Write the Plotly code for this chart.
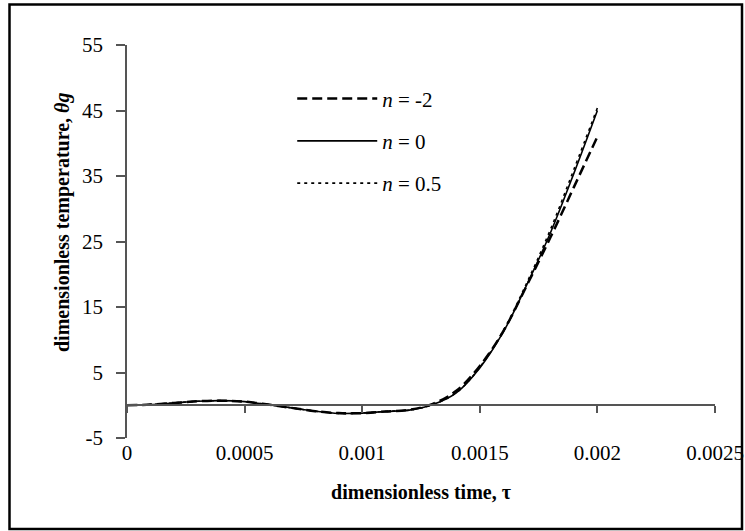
import plotly.graph_objects as go

tau = [0, 0.0001, 0.0002, 0.0003, 0.0004, 0.0005, 0.0006, 0.0007, 0.0008, 0.0009,
       0.001, 0.0011, 0.0012, 0.0013, 0.0014, 0.0015, 0.0016, 0.0017, 0.0018, 0.0019, 0.002]
theta_n_m2 = [0, 0.1, 0.35, 0.6, 0.7, 0.55, 0.1, -0.4, -0.9, -1.2,
              -1.2, -0.95, -0.7, 0.2, 2.2, 6.0, 11.3, 18.3, 25.6, 33.3, 41.0]
theta_n_0 = [0, 0.1, 0.35, 0.6, 0.7, 0.55, 0.1, -0.4, -0.9, -1.25,
             -1.2, -0.95, -0.75, 0.1, 1.9, 5.7, 11.2, 18.4, 26.3, 35.4, 45.0]
theta_n_05 = [0, 0.1, 0.35, 0.6, 0.7, 0.55, 0.1, -0.4, -0.9, -1.25,
              -1.2, -0.95, -0.75, 0.1, 1.9, 5.8, 11.4, 18.7, 26.8, 36.0, 45.4]

names = ["<i>n</i> = -2", "<i>n</i> = 0", "<i>n</i> = 0.5"]

x_ticks = [0, 0.0005, 0.001, 0.0015, 0.002, 0.0025]
x_ticktext = ["0", "0.0005", "0.001", "0.0015", "0.002", "0.0025"]
y_ticks = [-5, 5, 15, 25, 35, 45, 55]
y_ticktext = ["-5", "5", "15", "25", "35", "45", "55"]

FONT = "Liberation Serif, Times New Roman, serif"
AX = "#555555"

fig = go.Figure()
fig.add_trace(go.Scatter(x=tau, y=theta_n_m2, name=names[0], mode="lines", legendgroup="a",
                         line=dict(color="black", width=2.5, dash="10px,5px", shape="spline")))
fig.add_trace(go.Scatter(x=tau, y=theta_n_0, name=names[1], mode="lines", legendgroup="b",
                         line=dict(color="black", width=1.6, shape="spline")))
fig.add_trace(go.Scatter(x=tau, y=theta_n_05, name=names[2], mode="lines", legendgroup="c",
                         line=dict(color="black", width=1.6, dash="3px,4px", shape="spline")))
# invisible trace on xaxis2 to activate the axis drawn through y = 0
fig.add_trace(go.Scatter(x=[0], y=[0], xaxis="x2", mode="markers",
                         marker=dict(opacity=0), showlegend=False, hoverinfo="skip"))

fig.update_layout(
    width=745, height=531,
    margin=dict(l=127, r=30, t=45, b=93),
    paper_bgcolor="white", plot_bgcolor="white",
    font=dict(family=FONT, color="black", size=21),
    showlegend=True,
    legend=dict(x=0.281, y=0.915, xanchor="left", yanchor="top",
                bgcolor="rgba(0,0,0,0)", font=dict(size=21, family=FONT),
                itemwidth=80, tracegroupgap=12),
    xaxis=dict(range=[0, 0.0025], tickvals=x_ticks, ticktext=x_ticktext,
               showgrid=False, zeroline=False, showline=False, ticks="",
               tickfont=dict(size=21, family=FONT), automargin=False,
               title=dict(text="<b>dimensionless time, τ</b>", font=dict(size=20, family=FONT),
                          standoff=20)),
    xaxis2=dict(range=[0, 0.0025], overlaying="x", anchor="free", position=5/60,
                tickvals=x_ticks, showticklabels=False, showgrid=False, zeroline=False,
                showline=True, linecolor=AX, linewidth=1.5,
                ticks="outside", ticklen=7, tickcolor=AX, tickwidth=1.5),
    yaxis=dict(range=[-5, 55], tickvals=y_ticks, ticktext=y_ticktext,
               showgrid=False, zeroline=False, automargin=False,
               showline=True, linecolor=AX, linewidth=1.5,
               ticks="outside", ticklen=9, tickcolor=AX, tickwidth=1.5,
               ticklabelstandoff=9,
               tickfont=dict(size=21, family=FONT)),
    annotations=[dict(text="<b>dimensionless temperature, <i>θg</i></b>",
                      xref="paper", yref="paper", x=(62 - 127) / 588, y=(438 - 223) / 393,
                      xanchor="center", yanchor="middle", textangle=-90, showarrow=False,
                      font=dict(size=20, family=FONT, color="black"))],
    shapes=[dict(type="rect", xref="paper", yref="paper",
                 x0=(9.5 - 127) / 588, x1=(742 - 127) / 588,
                 y0=(438 - 529) / 393, y1=(438 - 4.5) / 393,
                 line=dict(color="black", width=2.5), fillcolor="rgba(0,0,0,0)")],
)

fig.write_html("out.html")
